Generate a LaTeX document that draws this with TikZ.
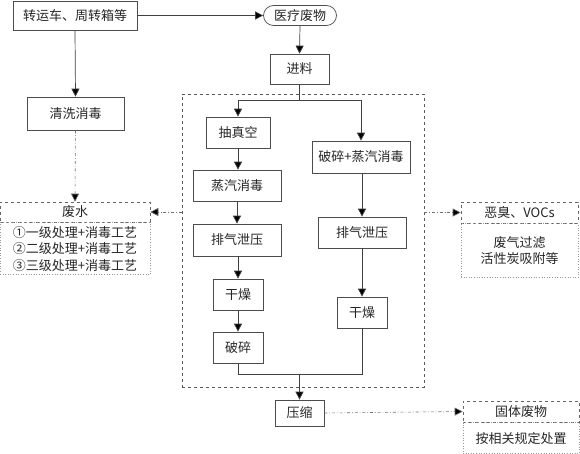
\documentclass[tikz,border=0pt]{standalone}
\usepackage{fontspec}
\setmainfont{Noto Sans CJK SC}
\usetikzlibrary{arrows.meta}
\begin{document}
\begin{tikzpicture}[x=1pt,y=-1pt,
  box/.style={draw=black!70, line width=0.7pt, inner sep=0pt, align=center,
    font=\fontsize{13}{16.5}\selectfont, text=black!85},
  hdr/.style={draw=black!60, dashed, line width=0.6pt, inner sep=0pt, align=center,
    font=\fontsize{13}{16.5}\selectfont, text=black!85},
  cnt/.style={draw=black!40, dotted, line width=0.6pt, inner sep=0pt, align=center,
    font=\fontsize{13}{16.5}\selectfont, text=black!85},
  flow/.style={draw=black!75, line width=0.7pt, -{Triangle[length=8pt,width=8pt,fill=black]}},
  fline/.style={draw=black!75, line width=0.7pt},
  side/.style={draw=black!55, line width=0.6pt, dash dot, -{Triangle[length=8pt,width=8pt,fill=black]}}
]
\useasboundingbox (0,0) rectangle (580,453);
\fill[white] (0,0) rectangle (580,453);

% dashed region
\node[draw=black!65, dashed, line width=0.7pt, minimum width=242pt, minimum height=293pt, inner sep=0pt] (reg) at (303,240.5) {};

\node[box, minimum width=124pt, minimum height=29pt] (trans) at (75,15.5) {转运车、周转箱等};
\node[box, rounded corners=10pt, minimum width=73pt, minimum height=20pt] (med) at (300,15.5) {医疗废物};
\node[box, minimum width=59pt, minimum height=30pt] (jin) at (299.5,69) {进料};
\node[box, minimum width=97pt, minimum height=33pt] (qx) at (75.5,113.5) {清洗消毒};

\node[box, minimum width=64pt, minimum height=31pt] (czk) at (238,132.5) {抽真空};
\node[box, minimum width=88pt, minimum height=31pt] (zq) at (237,185.5) {蒸汽消毒};
\node[box, minimum width=88pt, minimum height=32pt] (pq1) at (237,240) {排气泄压};
\node[box, minimum width=50pt, minimum height=31pt] (gz1) at (238,294.5) {干燥};
\node[box, minimum width=50pt, minimum height=31pt] (ps) at (238,347.5) {破碎};

\node[box, minimum width=98pt, minimum height=32pt] (psz) at (361,157) {破碎+蒸汽消毒};
\node[box, minimum width=88pt, minimum height=31pt] (pq2) at (362,232.5) {排气泄压};
\node[box, minimum width=50pt, minimum height=31pt] (gz2) at (362,312.5) {干燥};

\node[box, minimum width=49pt, minimum height=26pt] (ys) at (299.5,413) {压缩};

% side boxes
\node[hdr, minimum width=150pt, minimum height=20pt] (fs) at (75,212) {废水};
\node[cnt, minimum width=150pt, minimum height=52pt, anchor=north] (fsc) at (fs.south) {①一级处理+消毒工艺\\②二级处理+消毒工艺\\③三级处理+消毒工艺};

\node[hdr, minimum width=117pt, minimum height=21pt] (voc) at (519.5,212.5) {恶臭、VOCs};
\node[cnt, minimum width=117pt, minimum height=54pt, anchor=north] (vocc) at (voc.south) {废气过滤\\活性炭吸附等};

\node[hdr, minimum width=116pt, minimum height=21pt] (gt) at (521,411.5) {固体废物};
\node[cnt, minimum width=116pt, minimum height=31pt, anchor=north] (gtc) at (gt.south) {按相关规定处置};

% main flow
\draw[flow] (trans.east) -- (med.west);
\draw[flow] (med.south) -- (jin.north);
\draw[flow] (trans.south) -- (qx.north);

\coordinate (split) at (299.5,100);
\draw[fline] (jin.south) -- (split);
\draw[flow] (split) -| (czk.north);
\draw[flow] (split) -| (psz.north);
\draw[flow] (czk.south) -- (zq.north -| czk.south);
\draw[flow] (zq.south) -- (pq1.north);
\draw[flow] (pq1.south -| gz1.north) -- (gz1.north);
\draw[flow] (gz1.south) -- (ps.north);
\draw[flow] (psz.south -| pq2.north) -- (pq2.north);
\draw[flow] (pq2.south) -- (gz2.north);

\coordinate (join) at (299.5,374);
\draw[fline] (ps.south) |- (join);
\draw[fline] (gz2.south) |- (join);
\draw[flow] (join) -- (ys.north);

% side flows
\draw[side] (qx.south) -- (fs.north);
\draw[side] (reg.west |- fs.east) -- (fs.east);
\draw[side] (reg.east |- voc.west) -- (voc.west);
\draw[side] (ys.east) -- (gt.west);
\end{tikzpicture}
\end{document}
